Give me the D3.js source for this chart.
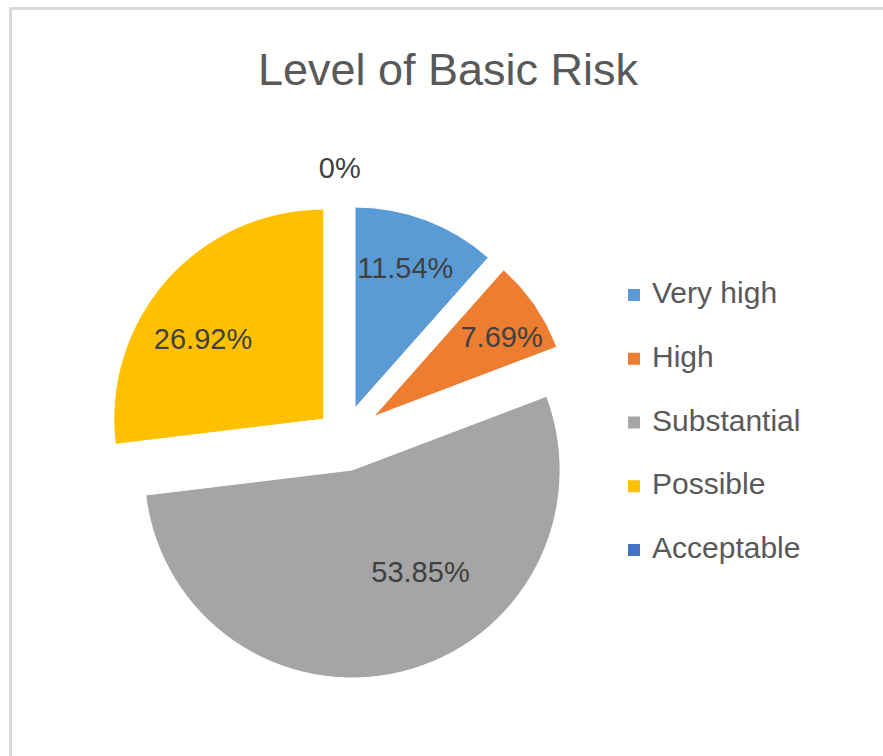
<!DOCTYPE html>
<html>
<head>
<meta charset="utf-8">
<script src="https://cdn.jsdelivr.net/npm/d3@7/dist/d3.min.js"></script>
<style>
  html, body { margin: 0; padding: 0; background: #fff; }
  svg { display: block; }
</style>
</head>
<body>
<svg id="chart" width="883" height="756"></svg>
<script>
// Risk level shares (percent of assessed items)
const categories = ["Very high", "High", "Substantial", "Possible", "Acceptable"];
const shares = [11.54, 7.69, 53.85, 26.92, 0];
const colors = ["#5B9BD5", "#ED7D31", "#A5A5A5", "#FFC000", "#4472C4"];
const chartTitle = "Level of Basic Risk";

// Per-slice drawing layout: explode distance, radius, label placement
const explode = [31, 36, 34, 27, 30];
const radii = [201, 196, 208, 210, 205];
const labelFrac = [0.74, 0.77, 0.59, 0.69, 1.17];
const labelTurn = [-1, 2.6, -20, -8, -1];

const W = 883, H = 756;
const svg = d3.select("#chart");
const font = "'Liberation Sans', Arial, sans-serif";

// outer frame
svg.append("rect")
  .attr("x", 10.5).attr("y", 8.5)
  .attr("width", W + 20).attr("height", H + 20)
  .attr("fill", "none")
  .attr("stroke", "#D9D9D9")
  .attr("stroke-width", 3);

// title
svg.append("text")
  .attr("x", 448).attr("y", 85)
  .attr("text-anchor", "middle")
  .attr("font-family", font)
  .attr("font-size", 45)
  .attr("fill", "#595959")
  .text(chartTitle);

const data = categories.map((c, i) => ({ name: c, value: shares[i], i }));

const pie = d3.pie()
  .sort(null)
  .value(d => d.value)
  .startAngle(0)
  .endAngle(2 * Math.PI);

const arcs = pie(data);
const g = svg.append("g").attr("transform", "translate(344,437)");

const fmt = v => (v === 0 ? "0" : d3.format(".2f")(v)) + "%";

const slice = g.selectAll("g.slice")
  .data(arcs)
  .join("g")
  .attr("class", "slice")
  .attr("transform", d => {
    const mid = (d.startAngle + d.endAngle) / 2;
    const k = explode[d.data.i];
    return `translate(${Math.sin(mid) * k},${-Math.cos(mid) * k})`;
  });

slice.append("path")
  .attr("d", d => d3.arc().innerRadius(0).outerRadius(radii[d.data.i])(d))
  .attr("fill", d => colors[d.data.i])
  .attr("stroke", "#fff")
  .attr("stroke-width", 1);

slice.append("text")
  .attr("transform", d => {
    const i = d.data.i;
    const mid = (d.startAngle + d.endAngle) / 2 + labelTurn[i] * Math.PI / 180;
    const r = radii[i] * labelFrac[i];
    return `translate(${Math.sin(mid) * r},${-Math.cos(mid) * r})`;
  })
  .attr("text-anchor", "middle")
  .attr("dy", "0.36em")
  .attr("font-family", font)
  .attr("font-size", 29)
  .attr("fill", "#404040")
  .text(d => fmt(d.data.value));

// legend
const legendY = d3.scalePoint()
  .domain(categories)
  .range([295, 550]);

const leg = svg.append("g")
  .selectAll("g")
  .data(categories)
  .join("g")
  .attr("transform", d => `translate(628,${legendY(d)})`);

leg.append("rect")
  .attr("x", 0).attr("y", -6)
  .attr("width", 12).attr("height", 12)
  .attr("fill", (d, i) => colors[i]);

leg.append("text")
  .attr("x", 24).attr("y", 8)
  .attr("font-family", font)
  .attr("font-size", 30)
  .attr("fill", "#595959")
  .text(d => d);
</script>
</body>
</html>
